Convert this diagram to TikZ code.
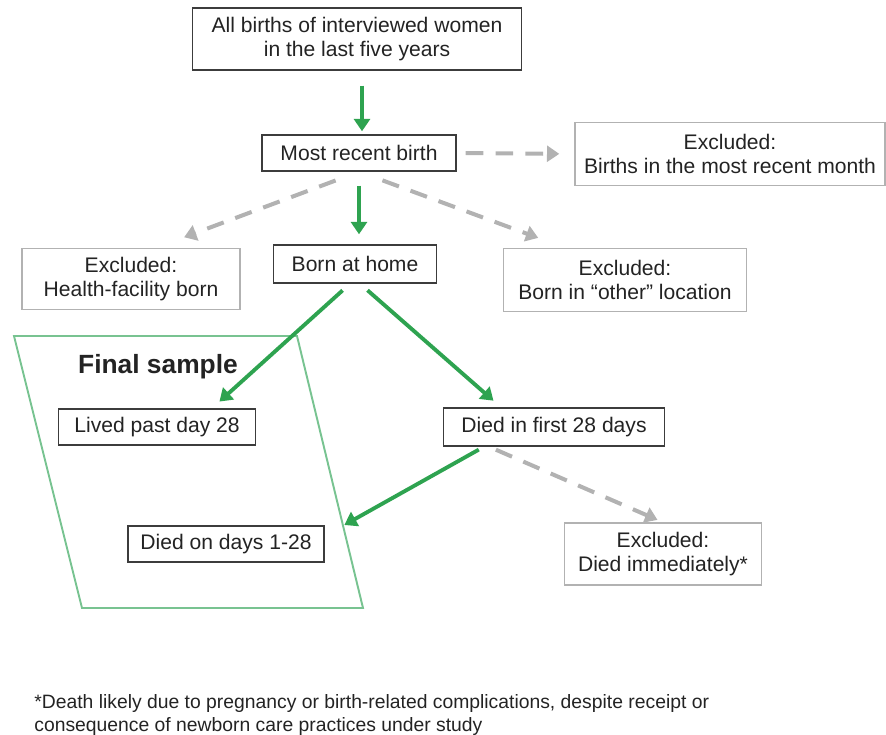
\documentclass[tikz,border=0pt]{standalone}
\usepackage{fontspec}
\setmainfont{Liberation Sans}
\usetikzlibrary{arrows.meta}
\definecolor{flowgreen}{RGB}{46,163,80}
\definecolor{framegreen}{RGB}{120,195,145}
\definecolor{exclgray}{RGB}{178,178,178}
\definecolor{boxgray}{RGB}{60,60,60}
\definecolor{textgray}{RGB}{35,35,35}
\tikzset{
  stepbox/.style={draw=boxgray, line width=0.8pt, text=textgray, align=center,
    inner sep=2pt, font=\fontsize{12}{13.6}\selectfont},
  exclbox/.style={stepbox, draw=exclgray},
  keep/.style={draw=flowgreen, line width=2.2pt,
    -{Triangle[length=7pt,width=9pt]}},
  drop/.style={draw=exclgray, line width=2.3pt, dash pattern=on 10pt off 7pt,
    -{Triangle[length=7pt,width=9pt]}}
}

\begin{document}
\begin{tikzpicture}
          \useasboundingbox (0,0) rectangle (17.72,-14.7);

          % Final sample frame
          \draw[framegreen, line width=1.1pt]
                (0.28,-6.72) -- (5.94,-6.72) -- (7.26,-12.16) -- (1.64,-12.16) -- cycle;
          \node[font=\fontsize{15}{18}\selectfont\bfseries, text=textgray] (fin) at (3.16,-7.34) {Final sample};

          \node[stepbox, minimum width=6.58cm, minimum height=1.24cm] (all) at (7.14,-0.78)
                {All births of interviewed women\\in the last five years};
          \node[stepbox, minimum width=3.88cm, minimum height=0.72cm] (rec) at (7.18,-3.06)  {Most recent birth};
          \node[exclbox, minimum width=6.2cm,  minimum height=1.26cm] (mon) at (14.6,-3.08)
                {Excluded:\\Births in the most recent month};
          \node[exclbox, minimum width=4.36cm, minimum height=1.22cm] (fac) at (2.62,-5.58)
                {Excluded:\\Health-facility born};
          \node[stepbox, minimum width=3.26cm, minimum height=0.76cm] (home) at (7.1,-5.28) {Born at home};
          \node[exclbox, minimum width=4.86cm, minimum height=1.26cm] (oth) at (12.5,-5.6)
                {Excluded:\\Born in ``other'' location};
          \node[stepbox, minimum width=3.94cm, minimum height=0.72cm] (liv) at (3.14,-8.54)  {Lived past day 28};
          \node[stepbox, minimum width=4.42cm, minimum height=0.76cm] (dfi) at (11.08,-8.54) {Died in first 28 days};
          \node[stepbox, minimum width=3.92cm, minimum height=0.72cm] (d28) at (4.52,-10.88) {Died on days 1-28};
          \node[exclbox, minimum width=3.94cm, minimum height=1.24cm] (imm) at (13.26,-11.08)
                {Excluded:\\Died immediately*};

          \node[anchor=north west, align=left, text=textgray, inner sep=0pt,
                font=\fontsize{11}{13}\selectfont] (note) at (0.68,-13.88)
                {*Death likely due to pregnancy or birth-related complications, despite receipt or\\
                 consequence of newborn care practices under study};

          % Draw the edges
          \draw[keep, shorten <=0.3cm, shorten >=0.06cm]
                ([xshift=0.06cm]rec.north |- all.south) -- ([xshift=0.06cm]rec.north);
          \draw[drop, shorten <=0.18cm, shorten >=0.3cm] (rec.east) -- (mon.west);
          \draw[drop, shorten <=0.5cm, shorten >=0.6cm] (rec.south) -- ([xshift=0.5cm]fac.north);
          \draw[keep, shorten <=0.28cm, shorten >=0.2cm] (rec.south) -- (rec.south |- home.north);
          \draw[drop, shorten <=0.5cm, shorten >=0.57cm] (rec.south) -- ([xshift=-1.2cm]oth.north);
          \draw[keep, shorten <=0.2cm, shorten >=0.2cm]
                ([xshift=-0.1cm]home.south) -- ([xshift=1.1cm]liv.north);
          \draw[keep, shorten <=0.2cm, shorten >=0.2cm]
                ([xshift=0.1cm]home.south) -- ([xshift=-1.06cm]dfi.north);
          \draw[keep, shorten <=0.12cm, shorten >=0.45cm]
                ([xshift=-1.4cm]dfi.south) -- ([yshift=0.16cm]d28.east);
          \draw[drop, shorten <=0.15cm, shorten >=0.12cm]
                ([xshift=-1.3cm]dfi.south) -- (imm.north);
\end{tikzpicture}
\end{document}
